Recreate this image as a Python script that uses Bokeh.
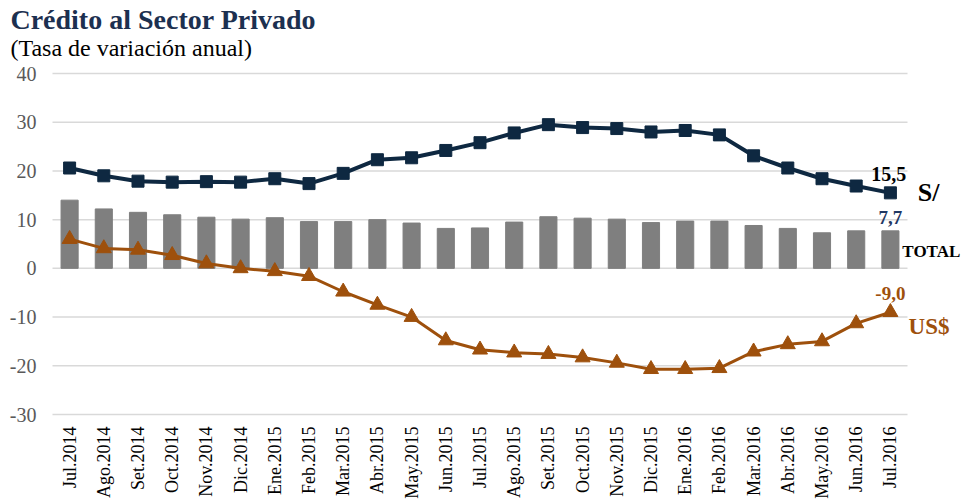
import math
from bokeh.plotting import figure
from bokeh.models import Range1d
from bokeh.core.properties import value
from bokeh.embed import file_html
from bokeh.resources import INLINE

months = ["Jul.2014", "Ago.2014", "Set.2014", "Oct.2014", "Nov.2014", "Dic.2014",
          "Ene.2015", "Feb.2015", "Mar.2015", "Abr.2015", "May.2015", "Jun.2015",
          "Jul.2015", "Ago.2015", "Set.2015", "Oct.2015", "Nov.2015", "Dic.2015",
          "Ene.2016", "Feb.2016", "Mar.2016", "Abr.2016", "May.2016", "Jun.2016",
          "Jul.2016"]
soles = [20.6, 19.0, 17.9, 17.7, 17.8, 17.7, 18.4, 17.4, 19.5, 22.3, 22.7, 24.2,
         25.8, 27.8, 29.5, 28.9, 28.7, 28.0, 28.3, 27.4, 23.1, 20.6, 18.4, 16.9, 15.5]
total = [14.0, 12.2, 11.5, 11.0, 10.5, 10.1, 10.4, 9.6, 9.6, 10.0, 9.3, 8.2,
         8.3, 9.5, 10.6, 10.3, 10.1, 9.4, 9.7, 9.7, 8.8, 8.2, 7.3, 7.7, 7.7]
dolares = [6.0, 4.1, 3.8, 2.7, 1.0, 0.0, -0.6, -1.6, -4.8, -7.5, -10.0, -14.8,
           -16.7, -17.3, -17.6, -18.3, -19.4, -20.7, -20.7, -20.5, -17.1, -15.6, -15.0, -11.3, -9.0]
y_ticks = [-30, -20, -10, 0, 10, 20, 30, 40]
y_tick_labels = ["-30", "-20", "-10", "0", "10", "20", "30", "40"]

NAVY = "#0e2841"
BROWN = "#9e500c"
GRAY = "#7f7f7f"
FONT = value("Liberation Serif")

W, H = 962, 502
n = len(months)
xs = list(range(n))

# plot area placement (pixels inside the figure)
FL, FR, FT, FB = 52, 907, 73, 414
px = (FR - FL) / n
py = (FB - FT) / (y_ticks[-1] - y_ticks[0])
x_lo = -0.5 - FL / px
x_hi = x_lo + W / px
y_hi = y_ticks[-1] + FT / py
y_lo = y_hi - H / py

p = figure(width=W, height=H, output_backend="svg", toolbar_location=None,
           x_range=Range1d(x_lo, x_hi), y_range=Range1d(y_lo, y_hi),
           min_border=0)
p.axis.visible = False
p.grid.visible = False
p.outline_line_color = None

# grid and tick labels
p.segment(x0=-0.5, x1=n - 0.5, y0=y_ticks, y1=y_ticks, line_color="#d9d9d9", line_width=1.5)
p.text(x=-0.5, y=y_ticks, text=y_tick_labels, x_offset=-16, text_align="right",
       text_baseline="middle", text_font=FONT, text_font_size="20px", text_color="#595959")
p.text(x=xs, y=y_ticks[0], text=months, angle=math.pi / 2, y_offset=12,
       text_align="right", text_baseline="middle", text_font=FONT,
       text_font_size="18px", text_color="black")

# data
p.vbar(x=xs, top=total, width=0.5, color=GRAY)
p.line(xs, soles, color=NAVY, line_width=4)
p.scatter(xs, soles, marker="square", size=12, color=NAVY)
p.line(xs, dolares, color=BROWN, line_width=3)
p.scatter(xs, dolares, marker="triangle", size=15, color=BROWN)

def lab(x, y, t, size, color, bold=True, align="left", baseline="middle"):
    p.text(x=[x], y=[y], text=[t], text_font=FONT, text_font_size=size,
           text_color=color, text_font_style="bold" if bold else "normal",
           text_align=align, text_baseline=baseline)

last = n - 1
lab(-1.73, 51.1, "Crédito al Sector Privado", "28px", "#1c3050")
lab(-1.73, 45.2, "(Tasa de variación anual)", "24px", "black", bold=False)
lab(last - 0.05, soles[-1] + 3.9, "15,5", "20px", "black", align="center")
lab(24.8, soles[-1], "S/", "26px", "black")
lab(last, total[-1] + 2.8, "7,7", "19px", "#1f3864", align="center")
lab(24.35, 3.55, "TOTAL", "17px", "black")
lab(last, dolares[-1] + 3.8, "-9,0", "19px", BROWN, align="center")
lab(24.53, -11.85, "US$", "23px", BROWN)

open("out.html", "w").write(file_html(p, INLINE))
